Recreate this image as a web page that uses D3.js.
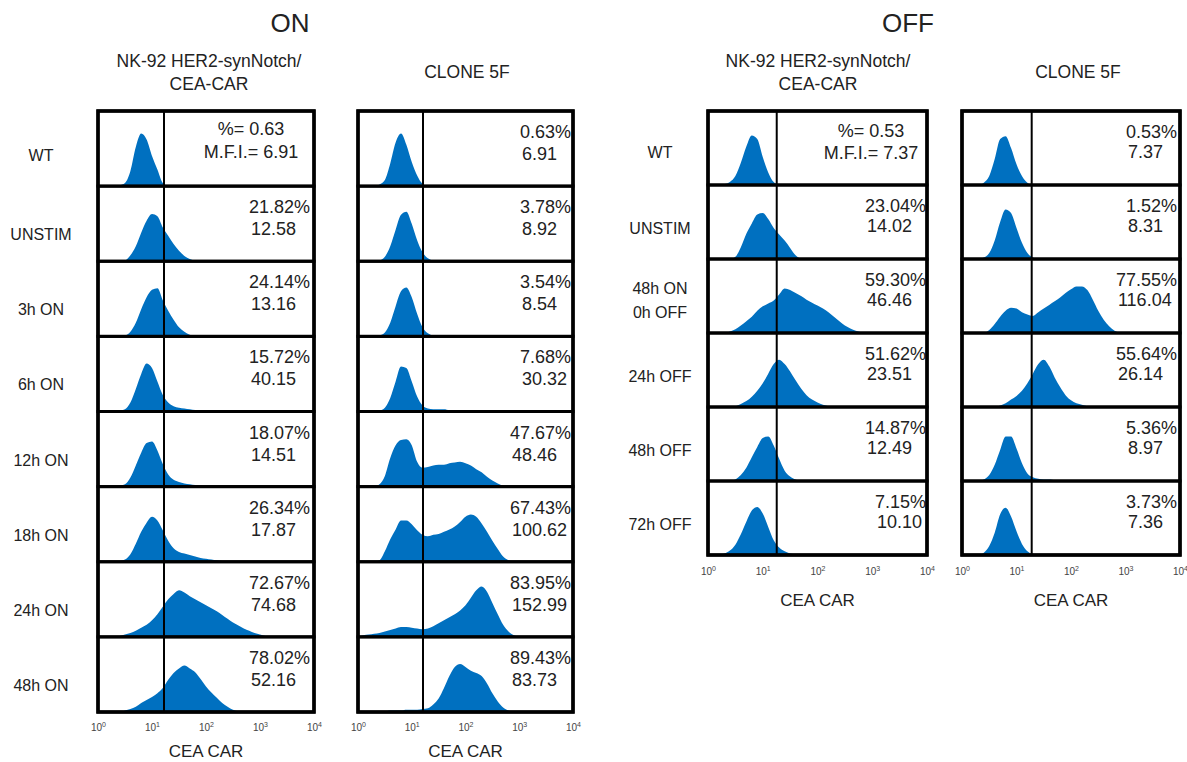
<!DOCTYPE html>
<html>
<head>
<meta charset="utf-8">
<script src="https://cdn.jsdelivr.net/npm/d3@7"></script>
<style>
  body { margin: 0; background: #fff; }
  svg text { font-family: "Liberation Sans", Arial, sans-serif; fill: #222; }
</style>
</head>
<body>
<svg id="fig" width="1187" height="762"></svg>
<script>
// ---- Conditions (row labels) ----
const onConditions  = ["WT", "UNSTIM", "3h ON", "6h ON", "12h ON", "18h ON", "24h ON", "48h ON"];
const offConditions = ["WT", "UNSTIM", "48h ON\n0h OFF", "24h OFF", "48h OFF", "72h OFF"];

// ---- Axis ticks (decades of CEA CAR fluorescence) ----
const tickExponents = [0, 1, 2, 3, 4];

// ---- Gate positions (fluorescence value of the positive gate) ----
const gateOnNk = 16.7, gateOnClone = 16.2, gateOffNk = 18.0, gateOffClone = 19.0;

// ---- % positive and M.F.I. per condition ----
const onNkPct     = [0.63, 21.82, 24.14, 15.72, 18.07, 26.34, 72.67, 78.02];
const onNkMfi     = [6.91, 12.58, 13.16, 40.15, 14.51, 17.87, 74.68, 52.16];
const onClonePct  = [0.63, 3.78, 3.54, 7.68, 47.67, 67.43, 83.95, 89.43];
const onCloneMfi  = [6.91, 8.92, 8.54, 30.32, 48.46, 100.62, 152.99, 83.73];
const offNkPct    = [0.53, 23.04, 59.30, 51.62, 14.87, 7.15];
const offNkMfi    = [7.37, 14.02, 46.46, 23.51, 12.49, 10.10];
const offClonePct = [0.53, 1.52, 77.55, 55.64, 5.36, 3.73];
const offCloneMfi = [7.37, 8.31, 116.04, 26.14, 8.97, 7.36];

// ---- Histograms: relative counts (% of row height) in 0.1-decade bins from 10^0 ----
const onNkHist = [
  [0,0,0,0,1,4,20,52,70,62,40,22,4,0],
  [0,0,0,0,0,1,8,20,38,54,63,60,45,34,23,14,7,3,1,0],
  [0,0,0,0,0,1,6,18,36,52,62,64,48,34,22,12,6,2,0],
  [0,0,0,0,1,3,12,30,50,64,58,40,22,12,7,5,4,3,2,1,0],
  [0,0,0,0,1,3,12,28,45,58,60,48,30,16,9,6,4,3,2,1,0],
  [0,0,0,0,1,3,10,24,40,52,60,55,42,28,18,13,11,9,7,5,4,3,2,1,1,0],
  [0,0,0,0,1,3,5,8,12,16,22,30,40,50,57,62,59,54,50,46,42,38,34,29,24,19,15,11,8,5,3,1,0],
  [0,0,0,0,0,2,4,7,12,16,20,25,32,43,52,58,62,58,53,44,34,26,19,12,7,3,1,0]
];
const onCloneHist = [
  [0,0,0,0,2,8,30,58,70,55,32,14,3,0],
  [0,0,0,0,1,6,20,42,62,66,50,28,12,4,1,0],
  [0,0,0,0,1,5,18,40,60,65,52,30,12,4,1,0],
  [0,0,0,0,1,5,18,40,60,58,40,20,8,4,3,3,3,2,2,2,2,1,1,1,0],
  [0,0,0,0,3,14,38,55,62,63,55,33,25,26,28,29,29,31,32,33,31,28,23,19,13,8,4,1,0],
  [0,0,0,0,2,14,30,43,55,55,50,42,36,34,36,37,40,43,47,53,60,63,60,51,40,28,17,7,2,0],
  [0,2,3,4,5,7,9,11,13,13,12,11,10,11,14,18,22,26,30,35,42,52,62,67,60,45,30,16,7,2,0],
  [0,0,0,0,1,1,2,2,2,3,3,3,4,5,10,18,32,48,60,64,60,55,52,48,38,25,14,6,2,0]
];
const offNkHist = [
  [0,0,0,1,4,12,30,52,67,62,38,17,4,0],
  [0,0,0,0,0,3,16,34,48,60,62,54,42,33,25,15,5,0],
  [0,0,0,0,2,5,10,16,22,30,36,40,44,52,60,58,54,50,45,41,37,33,28,22,16,10,6,3,1,0],
  [0,0,0,0,0,1,4,8,14,22,32,45,58,64,58,48,36,25,16,10,6,3,1,0],
  [0,0,0,0,0,2,8,18,32,46,58,60,48,30,14,6,2,0],
  [0,0,0,2,6,14,28,45,60,65,56,38,20,10,5,2,1,0]
];
const offCloneHist = [
  [0,0,0,0,3,12,35,62,66,50,28,12,3,0],
  [0,0,0,0,2,8,25,50,67,62,42,22,8,2,0],
  [0,0,0,0,0,4,12,22,30,34,33,28,25,23,28,33,38,43,48,54,59,63,63,58,45,30,18,9,3,0],
  [0,0,0,0,0,0,0,2,5,10,15,22,32,45,58,64,55,40,27,16,9,5,3,1,0],
  [0,0,0,0,2,8,22,42,60,60,44,24,10,5,3,2,2,1,1,0],
  [0,0,0,0,3,12,30,55,64,52,32,15,5,1,0]
];

// ---- Layout ----
const HIST_COLOR = "#0070C0";
const fmt = d3.format(".2f");
const svg = d3.select("#fig");

const panels = [
  { x0: 98,  x1: 314,  top: 111, rowH: 75.125, gate: gateOnNk,    hist: onNkHist,    pct: onNkPct,    mfi: onNkMfi,
    pctRight: 310, wtCenter: 251, statDy: [27, 49], wtDy: [24, 47], nk: true,  axisY: 731, titleY: 757 },
  { x0: 358, x1: 573,  top: 111, rowH: 75.125, gate: gateOnClone, hist: onCloneHist, pct: onClonePct, mfi: onCloneMfi,
    pctRight: 571, statDy: [27, 49], nk: false, axisY: 731, titleY: 757 },
  { x0: 708, x1: 927,  top: 111, rowH: 74,     gate: gateOffNk,   hist: offNkHist,   pct: offNkPct,   mfi: offNkMfi,
    pctRight: 926, wtCenter: 871, statDy: [26.5, 47], wtDy: [25.5, 48], nk: true,  axisY: 575, titleY: 606 },
  { x0: 962, x1: 1180, top: 111, rowH: 74,     gate: gateOffClone, hist: offCloneHist, pct: offClonePct, mfi: offCloneMfi,
    pctRight: 1177, statDy: [26.5, 47], nk: false, axisY: 575, titleY: 606 }
];

// ---- Block titles ----
svg.append("text").attr("x", 290).attr("y", 32).attr("text-anchor", "middle")
  .attr("font-size", 26).text("ON");
svg.append("text").attr("x", 908).attr("y", 32).attr("text-anchor", "middle")
  .attr("font-size", 26).text("OFF");

function subHeader(cx, lines, y0) {
  const t = svg.append("text").attr("text-anchor", "middle").attr("font-size", 17.5);
  lines.forEach((s, i) => t.append("tspan").attr("x", cx).attr("y", y0 + i * 22.5).text(s));
}
subHeader(209,  ["NK-92 HER2-synNotch/", "CEA-CAR"], 67);
subHeader(467,  ["CLONE 5F"], 78);
subHeader(818,  ["NK-92 HER2-synNotch/", "CEA-CAR"], 67);
subHeader(1078, ["CLONE 5F"], 78);

// ---- Row labels ----
function rowLabels(cx, labels, top, rowH, dy, dyFirst) {
  labels.forEach((lab, i) => {
    const lines = lab.split("\n");
    const t = svg.append("text").attr("text-anchor", "middle").attr("font-size", 16);
    const base = top + i * rowH;
    if (lines.length === 1) {
      t.append("tspan").attr("x", cx).attr("y", base + (i === 0 ? dyFirst : dy)).text(lines[0]);
    } else {
      lines.forEach((s, j) => t.append("tspan").attr("x", cx).attr("y", base + 35 + j * 24).text(s));
    }
  });
}
rowLabels(41,  onConditions,  111, 75.125, 54, 50);
rowLabels(660, offConditions, 111, 74,     49, 47);

// ---- Histogram panels ----
panels.forEach((p, pi) => {
  const x = d3.scaleLog().domain([1, 1e4]).range([p.x0, p.x1]);
  const g = svg.append("g");
  const nRows = p.hist.length;

  p.hist.forEach((counts, r) => {
    const top = p.top + r * p.rowH, bottom = top + p.rowH;
    const y = d3.scaleLinear().domain([0, 100]).range([bottom, top]);
    const pts = counts.map((v, i) => [i / 10, v]);

    const clipId = `clip-${pi}-${r}`;
    g.append("clipPath").attr("id", clipId)
      .append("rect").attr("x", p.x0).attr("y", top).attr("width", p.x1 - p.x0).attr("height", p.rowH);

    g.append("path")
      .attr("clip-path", `url(#${clipId})`)
      .attr("fill", HIST_COLOR)
      .attr("d", d3.area()
        .x(d => x(Math.pow(10, d[0])))
        .y0(bottom)
        .y1(d => y(d[1]))
        .curve(d3.curveMonotoneX)(pts));

    // positive gate
    g.append("line")
      .attr("x1", x(p.gate)).attr("x2", x(p.gate))
      .attr("y1", top).attr("y2", bottom)
      .attr("stroke", "#000").attr("stroke-width", 2);

    // row frame
    g.append("rect")
      .attr("x", p.x0).attr("y", top).attr("width", p.x1 - p.x0).attr("height", p.rowH)
      .attr("fill", "none").attr("stroke", "#000").attr("stroke-width", 3);

    // statistics
    if (r === 0 && p.nk) {
      g.append("text").attr("x", p.wtCenter).attr("y", top + p.wtDy[0])
        .attr("text-anchor", "middle").attr("font-size", 18).text("%= " + fmt(p.pct[r]));
      g.append("text").attr("x", p.wtCenter).attr("y", top + p.wtDy[1])
        .attr("text-anchor", "middle").attr("font-size", 18).text("M.F.I.= " + fmt(p.mfi[r]));
    } else {
      const pt = g.append("text").attr("x", p.pctRight).attr("y", top + p.statDy[0])
        .attr("text-anchor", "end").attr("font-size", 18).text(fmt(p.pct[r]) + "%");
      const w = pt.node().getComputedTextLength();
      g.append("text").attr("x", p.pctRight - w + 2).attr("y", top + p.statDy[1])
        .attr("font-size", 18).text(fmt(p.mfi[r]));
    }
  });

  // outer frame
  g.append("rect")
    .attr("x", p.x0).attr("y", p.top).attr("width", p.x1 - p.x0).attr("height", nRows * p.rowH)
    .attr("fill", "none").attr("stroke", "#000").attr("stroke-width", 3.5);

  // log axis with decade labels
  const axis = d3.axisBottom(x)
    .tickValues(tickExponents.map(e => Math.pow(10, e)))
    .tickSize(0)
    .tickFormat(() => "10");
  const ag = svg.append("g").attr("transform", `translate(0,${p.axisY})`).call(axis);
  ag.select(".domain").remove();
  ag.selectAll(".tick text")
    .attr("y", 0).attr("dy", null)
    .attr("font-size", 10)
    .attr("font-family", "'Liberation Sans Narrow', 'Liberation Sans', Arial, sans-serif")
    .style("fill", "#444")
    .each(function (d) {
      d3.select(this).append("tspan")
        .attr("dy", -4).attr("font-size", 7)
        .text(Math.round(Math.log10(d)));
    });

  svg.append("text")
    .attr("x", (p.x0 + p.x1) / 2).attr("y", p.titleY)
    .attr("text-anchor", "middle").attr("font-size", 17).text("CEA CAR");
});
</script>
</body>
</html>
